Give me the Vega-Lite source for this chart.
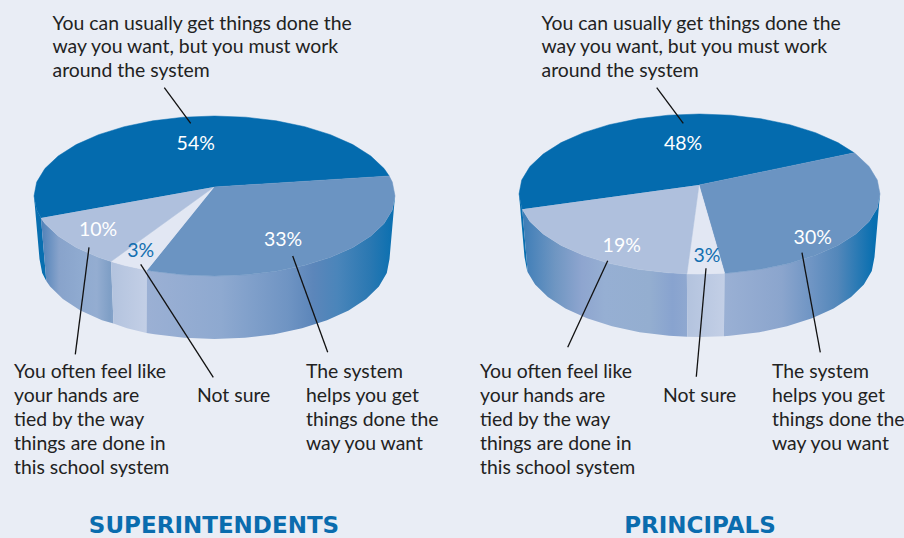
{"$schema":"https://vega.github.io/schema/vega-lite/v6.json","width":904,"height":538,"autosize":{"type":"fit","contains":"padding"},"padding":0,"background":"#e9edf5","config":{"view":{"stroke":null}},
"datasets":{
"tops":[
{"panel":"SUPERINTENDENTS","answer":"work around","ord":0,"x":214,"y":187},{"panel":"SUPERINTENDENTS","answer":"work around","ord":1,"x":41,"y":218},{"panel":"SUPERINTENDENTS","answer":"work around","ord":2,"x":36.7,"y":209.9},{"panel":"SUPERINTENDENTS","answer":"work around","ord":3,"x":34,"y":196},{"panel":"SUPERINTENDENTS","answer":"work around","ord":4,"x":36.7,"y":182.1},{"panel":"SUPERINTENDENTS","answer":"work around","ord":5,"x":44.9,"y":168.6},{"panel":"SUPERINTENDENTS","answer":"work around","ord":6,"x":58.2,"y":156},{"panel":"SUPERINTENDENTS","answer":"work around","ord":7,"x":76.2,"y":144.6},{"panel":"SUPERINTENDENTS","answer":"work around","ord":8,"x":98.5,"y":134.7},{"panel":"SUPERINTENDENTS","answer":"work around","ord":9,"x":124.2,"y":126.7},{"panel":"SUPERINTENDENTS","answer":"work around","ord":10,"x":152.8,"y":120.8},{"panel":"SUPERINTENDENTS","answer":"work around","ord":11,"x":183.2,"y":117.2},{"panel":"SUPERINTENDENTS","answer":"work around","ord":12,"x":214.5,"y":116},{"panel":"SUPERINTENDENTS","answer":"work around","ord":13,"x":245.8,"y":117.2},{"panel":"SUPERINTENDENTS","answer":"work around","ord":14,"x":276.2,"y":120.8},{"panel":"SUPERINTENDENTS","answer":"work around","ord":15,"x":304.8,"y":126.7},{"panel":"SUPERINTENDENTS","answer":"work around","ord":16,"x":330.5,"y":134.7},{"panel":"SUPERINTENDENTS","answer":"work around","ord":17,"x":352.8,"y":144.6},{"panel":"SUPERINTENDENTS","answer":"work around","ord":18,"x":370.8,"y":156},{"panel":"SUPERINTENDENTS","answer":"work around","ord":19,"x":384.1,"y":168.6},{"panel":"SUPERINTENDENTS","answer":"work around","ord":20,"x":389.2,"y":176},
{"panel":"SUPERINTENDENTS","answer":"helps","ord":0,"x":214,"y":187},{"panel":"SUPERINTENDENTS","answer":"helps","ord":1,"x":389.2,"y":176},{"panel":"SUPERINTENDENTS","answer":"helps","ord":2,"x":392.3,"y":182.1},{"panel":"SUPERINTENDENTS","answer":"helps","ord":3,"x":395,"y":196},{"panel":"SUPERINTENDENTS","answer":"helps","ord":4,"x":392.3,"y":209.9},{"panel":"SUPERINTENDENTS","answer":"helps","ord":5,"x":384.1,"y":223.4},{"panel":"SUPERINTENDENTS","answer":"helps","ord":6,"x":370.8,"y":236},{"panel":"SUPERINTENDENTS","answer":"helps","ord":7,"x":352.8,"y":247.4},{"panel":"SUPERINTENDENTS","answer":"helps","ord":8,"x":330.5,"y":257.3},{"panel":"SUPERINTENDENTS","answer":"helps","ord":9,"x":304.8,"y":265.3},{"panel":"SUPERINTENDENTS","answer":"helps","ord":10,"x":276.2,"y":271.2},{"panel":"SUPERINTENDENTS","answer":"helps","ord":11,"x":245.8,"y":274.8},{"panel":"SUPERINTENDENTS","answer":"helps","ord":12,"x":214.5,"y":276},{"panel":"SUPERINTENDENTS","answer":"helps","ord":13,"x":183.2,"y":274.8},{"panel":"SUPERINTENDENTS","answer":"helps","ord":14,"x":152.8,"y":271.2},{"panel":"SUPERINTENDENTS","answer":"helps","ord":15,"x":146.9,"y":270.2},
{"panel":"SUPERINTENDENTS","answer":"not sure","ord":0,"x":214,"y":187},{"panel":"SUPERINTENDENTS","answer":"not sure","ord":1,"x":146.9,"y":270.2},{"panel":"SUPERINTENDENTS","answer":"not sure","ord":2,"x":124.2,"y":265.3},{"panel":"SUPERINTENDENTS","answer":"not sure","ord":3,"x":111,"y":261.5},
{"panel":"SUPERINTENDENTS","answer":"hands tied","ord":0,"x":214,"y":187},{"panel":"SUPERINTENDENTS","answer":"hands tied","ord":1,"x":111,"y":261.5},{"panel":"SUPERINTENDENTS","answer":"hands tied","ord":2,"x":98.5,"y":257.3},{"panel":"SUPERINTENDENTS","answer":"hands tied","ord":3,"x":76.2,"y":247.4},{"panel":"SUPERINTENDENTS","answer":"hands tied","ord":4,"x":58.2,"y":236},{"panel":"SUPERINTENDENTS","answer":"hands tied","ord":5,"x":44.9,"y":223.4},{"panel":"SUPERINTENDENTS","answer":"hands tied","ord":6,"x":41,"y":218},
{"panel":"PRINCIPALS","answer":"work around","ord":0,"x":699,"y":185},{"panel":"PRINCIPALS","answer":"work around","ord":1,"x":522.3,"y":209.3},{"panel":"PRINCIPALS","answer":"work around","ord":2,"x":521.7,"y":207.9},{"panel":"PRINCIPALS","answer":"work around","ord":3,"x":519,"y":194},{"panel":"PRINCIPALS","answer":"work around","ord":4,"x":521.7,"y":180.1},{"panel":"PRINCIPALS","answer":"work around","ord":5,"x":529.9,"y":166.6},{"panel":"PRINCIPALS","answer":"work around","ord":6,"x":543.2,"y":154},{"panel":"PRINCIPALS","answer":"work around","ord":7,"x":561.2,"y":142.6},{"panel":"PRINCIPALS","answer":"work around","ord":8,"x":583.5,"y":132.7},{"panel":"PRINCIPALS","answer":"work around","ord":9,"x":609.2,"y":124.7},{"panel":"PRINCIPALS","answer":"work around","ord":10,"x":637.8,"y":118.8},{"panel":"PRINCIPALS","answer":"work around","ord":11,"x":668.2,"y":115.2},{"panel":"PRINCIPALS","answer":"work around","ord":12,"x":699.5,"y":114},{"panel":"PRINCIPALS","answer":"work around","ord":13,"x":730.8,"y":115.2},{"panel":"PRINCIPALS","answer":"work around","ord":14,"x":761.2,"y":118.8},{"panel":"PRINCIPALS","answer":"work around","ord":15,"x":789.8,"y":124.7},{"panel":"PRINCIPALS","answer":"work around","ord":16,"x":815.5,"y":132.7},{"panel":"PRINCIPALS","answer":"work around","ord":17,"x":837.8,"y":142.6},{"panel":"PRINCIPALS","answer":"work around","ord":18,"x":854.2,"y":152.8},
{"panel":"PRINCIPALS","answer":"helps","ord":0,"x":699,"y":185},{"panel":"PRINCIPALS","answer":"helps","ord":1,"x":854.2,"y":152.8},{"panel":"PRINCIPALS","answer":"helps","ord":2,"x":855.8,"y":154},{"panel":"PRINCIPALS","answer":"helps","ord":3,"x":869.1,"y":166.6},{"panel":"PRINCIPALS","answer":"helps","ord":4,"x":877.3,"y":180.1},{"panel":"PRINCIPALS","answer":"helps","ord":5,"x":880,"y":194},{"panel":"PRINCIPALS","answer":"helps","ord":6,"x":877.3,"y":207.9},{"panel":"PRINCIPALS","answer":"helps","ord":7,"x":869.1,"y":221.4},{"panel":"PRINCIPALS","answer":"helps","ord":8,"x":855.8,"y":234},{"panel":"PRINCIPALS","answer":"helps","ord":9,"x":837.8,"y":245.4},{"panel":"PRINCIPALS","answer":"helps","ord":10,"x":815.5,"y":255.3},{"panel":"PRINCIPALS","answer":"helps","ord":11,"x":789.8,"y":263.3},{"panel":"PRINCIPALS","answer":"helps","ord":12,"x":761.2,"y":269.2},{"panel":"PRINCIPALS","answer":"helps","ord":13,"x":730.8,"y":272.8},{"panel":"PRINCIPALS","answer":"helps","ord":14,"x":724.6,"y":273.2},
{"panel":"PRINCIPALS","answer":"not sure","ord":0,"x":699,"y":185},{"panel":"PRINCIPALS","answer":"not sure","ord":1,"x":724.6,"y":273.2},{"panel":"PRINCIPALS","answer":"not sure","ord":2,"x":699.5,"y":274},{"panel":"PRINCIPALS","answer":"not sure","ord":3,"x":686.9,"y":273.8},
{"panel":"PRINCIPALS","answer":"hands tied","ord":0,"x":699,"y":185},{"panel":"PRINCIPALS","answer":"hands tied","ord":1,"x":686.9,"y":273.8},{"panel":"PRINCIPALS","answer":"hands tied","ord":2,"x":668.2,"y":272.8},{"panel":"PRINCIPALS","answer":"hands tied","ord":3,"x":637.8,"y":269.2},{"panel":"PRINCIPALS","answer":"hands tied","ord":4,"x":609.2,"y":263.3},{"panel":"PRINCIPALS","answer":"hands tied","ord":5,"x":583.5,"y":255.3},{"panel":"PRINCIPALS","answer":"hands tied","ord":6,"x":561.2,"y":245.4},{"panel":"PRINCIPALS","answer":"hands tied","ord":7,"x":543.2,"y":234},{"panel":"PRINCIPALS","answer":"hands tied","ord":8,"x":529.9,"y":221.4},{"panel":"PRINCIPALS","answer":"hands tied","ord":9,"x":522.3,"y":209.3}
],
"walls":[
{"id":"S helps","ord":0,"x":395,"y":196},{"id":"S helps","ord":1,"x":392.3,"y":209.9},{"id":"S helps","ord":2,"x":384.1,"y":223.4},{"id":"S helps","ord":3,"x":370.8,"y":236},{"id":"S helps","ord":4,"x":352.8,"y":247.4},{"id":"S helps","ord":5,"x":330.5,"y":257.3},{"id":"S helps","ord":6,"x":304.8,"y":265.3},{"id":"S helps","ord":7,"x":276.2,"y":271.2},{"id":"S helps","ord":8,"x":245.8,"y":274.8},{"id":"S helps","ord":9,"x":214.5,"y":276},{"id":"S helps","ord":10,"x":183.2,"y":274.8},{"id":"S helps","ord":11,"x":152.8,"y":271.2},{"id":"S helps","ord":12,"x":146.9,"y":270.2},{"id":"S helps","ord":13,"x":146.5,"y":333},{"id":"S helps","ord":14,"x":154.6,"y":334.2},{"id":"S helps","ord":15,"x":184.1,"y":337.8},{"id":"S helps","ord":16,"x":214.5,"y":339},{"id":"S helps","ord":17,"x":244.9,"y":337.8},{"id":"S helps","ord":18,"x":274.4,"y":334.2},{"id":"S helps","ord":19,"x":302,"y":328.3},{"id":"S helps","ord":20,"x":327,"y":320.3},{"id":"S helps","ord":21,"x":348.6,"y":310.4},{"id":"S helps","ord":22,"x":366.1,"y":299},{"id":"S helps","ord":23,"x":378.9,"y":286.4},{"id":"S helps","ord":24,"x":386.8,"y":272.9},{"id":"S helps","ord":25,"x":389.5,"y":259},
{"id":"S not sure","ord":0,"x":146.9,"y":270.2},{"id":"S not sure","ord":1,"x":124.2,"y":265.3},{"id":"S not sure","ord":2,"x":111,"y":261.5},{"id":"S not sure","ord":3,"x":113.5,"y":323.5},{"id":"S not sure","ord":4,"x":127,"y":328.3},{"id":"S not sure","ord":5,"x":146.5,"y":333},
{"id":"S hands","ord":0,"x":111,"y":261.5},{"id":"S hands","ord":1,"x":98.5,"y":257.3},{"id":"S hands","ord":2,"x":76.2,"y":247.4},{"id":"S hands","ord":3,"x":58.2,"y":236},{"id":"S hands","ord":4,"x":44.9,"y":223.4},{"id":"S hands","ord":5,"x":41,"y":218},{"id":"S hands","ord":6,"x":46.3,"y":281},{"id":"S hands","ord":7,"x":50.1,"y":286.4},{"id":"S hands","ord":8,"x":62.9,"y":299},{"id":"S hands","ord":9,"x":80.4,"y":310.4},{"id":"S hands","ord":10,"x":102,"y":320.3},{"id":"S hands","ord":11,"x":113.5,"y":323.5},
{"id":"S work","ord":0,"x":41,"y":218},{"id":"S work","ord":1,"x":36.7,"y":209.9},{"id":"S work","ord":2,"x":34,"y":196},{"id":"S work","ord":3,"x":39.5,"y":259},{"id":"S work","ord":4,"x":42.2,"y":272.9},{"id":"S work","ord":5,"x":46.3,"y":281},
{"id":"P helps","ord":0,"x":880,"y":194},{"id":"P helps","ord":1,"x":877.3,"y":207.9},{"id":"P helps","ord":2,"x":869.1,"y":221.4},{"id":"P helps","ord":3,"x":855.8,"y":234},{"id":"P helps","ord":4,"x":837.8,"y":245.4},{"id":"P helps","ord":5,"x":815.5,"y":255.3},{"id":"P helps","ord":6,"x":789.8,"y":263.3},{"id":"P helps","ord":7,"x":761.2,"y":269.2},{"id":"P helps","ord":8,"x":730.8,"y":272.8},{"id":"P helps","ord":9,"x":724.6,"y":273.2},{"id":"P helps","ord":10,"x":723.9,"y":336.2},{"id":"P helps","ord":11,"x":729.9,"y":335.8},{"id":"P helps","ord":12,"x":759.4,"y":332.2},{"id":"P helps","ord":13,"x":787,"y":326.3},{"id":"P helps","ord":14,"x":812,"y":318.3},{"id":"P helps","ord":15,"x":833.6,"y":308.4},{"id":"P helps","ord":16,"x":851.1,"y":297},{"id":"P helps","ord":17,"x":863.9,"y":284.4},{"id":"P helps","ord":18,"x":871.8,"y":270.9},{"id":"P helps","ord":19,"x":874.5,"y":257},
{"id":"P not sure","ord":0,"x":724.6,"y":273.2},{"id":"P not sure","ord":1,"x":699.5,"y":274},{"id":"P not sure","ord":2,"x":686.9,"y":273.8},{"id":"P not sure","ord":3,"x":687.3,"y":336.8},{"id":"P not sure","ord":4,"x":699.5,"y":337},{"id":"P not sure","ord":5,"x":723.9,"y":336.2},
{"id":"P hands","ord":0,"x":686.9,"y":273.8},{"id":"P hands","ord":1,"x":668.2,"y":272.8},{"id":"P hands","ord":2,"x":637.8,"y":269.2},{"id":"P hands","ord":3,"x":609.2,"y":263.3},{"id":"P hands","ord":4,"x":583.5,"y":255.3},{"id":"P hands","ord":5,"x":561.2,"y":245.4},{"id":"P hands","ord":6,"x":543.2,"y":234},{"id":"P hands","ord":7,"x":529.9,"y":221.4},{"id":"P hands","ord":8,"x":522.3,"y":209.3},{"id":"P hands","ord":9,"x":527.7,"y":272.3},{"id":"P hands","ord":10,"x":535.1,"y":284.4},{"id":"P hands","ord":11,"x":547.9,"y":297},{"id":"P hands","ord":12,"x":565.4,"y":308.4},{"id":"P hands","ord":13,"x":587,"y":318.3},{"id":"P hands","ord":14,"x":612,"y":326.3},{"id":"P hands","ord":15,"x":639.6,"y":332.2},{"id":"P hands","ord":16,"x":669.1,"y":335.8},{"id":"P hands","ord":17,"x":687.3,"y":336.8},
{"id":"P work","ord":0,"x":522.3,"y":209.3},{"id":"P work","ord":1,"x":521.7,"y":207.9},{"id":"P work","ord":2,"x":519,"y":194},{"id":"P work","ord":3,"x":524.5,"y":257},{"id":"P work","ord":4,"x":527.2,"y":270.9},{"id":"P work","ord":5,"x":527.7,"y":272.3}
],
"leaders":[
{"x":164.3,"y":87.7,"x2":190.7,"y2":123.3},{"x":89,"y":247.3,"x2":75.3,"y2":354.3},{"x":140.7,"y":264.3,"x2":213.3,"y2":377.3},{"x":292.7,"y":256,"x2":327.7,"y2":352.3},
{"x":656.7,"y":87.7,"x2":683.3,"y2":123.3},{"x":607.7,"y":260.7,"x2":567.7,"y2":347.3},{"x":706,"y":268.3,"x2":696.3,"y2":376.7},{"x":802,"y":252.7,"x2":820.3,"y2":352.3}
],
"captions":[
{"t":"You can usually get things done the","x":52.5,"y":29.5},{"t":"way you want, but you must work","x":52.5,"y":53},{"t":"around the system","x":52.5,"y":77},
{"t":"You often feel like","x":14,"y":377.5},{"t":"your hands are","x":14,"y":401.5},{"t":"tied by the way","x":14,"y":425.5},{"t":"things are done in","x":14,"y":450},{"t":"this school system","x":14,"y":474},
{"t":"Not sure","x":197,"y":401.5},
{"t":"The system","x":306,"y":377.5},{"t":"helps you get","x":306,"y":401.5},{"t":"things done the","x":306,"y":425.5},{"t":"way you want","x":306,"y":450},
{"t":"You can usually get things done the","x":541.5,"y":29.5},{"t":"way you want, but you must work","x":541.5,"y":53},{"t":"around the system","x":541.5,"y":77},
{"t":"You often feel like","x":480,"y":377.5},{"t":"your hands are","x":480,"y":401.5},{"t":"tied by the way","x":480,"y":425.5},{"t":"things are done in","x":480,"y":450},{"t":"this school system","x":480,"y":474},
{"t":"Not sure","x":663,"y":401.5},
{"t":"The system","x":772,"y":377.5},{"t":"helps you get","x":772,"y":401.5},{"t":"things done the","x":772,"y":425.5},{"t":"way you want","x":772,"y":450}
],
"shares":[
{"answer":"work around","share":"54%","x":195.7,"y":150},{"answer":"helps","share":"33%","x":283,"y":246},{"answer":"hands tied","share":"10%","x":98,"y":235.7},{"answer":"not sure","share":"3%","x":140.7,"y":257},
{"answer":"work around","share":"48%","x":683,"y":150},{"answer":"helps","share":"30%","x":812.7,"y":244},{"answer":"hands tied","share":"19%","x":621.7,"y":252},{"answer":"not sure","share":"3%","x":707,"y":262}
],
"titles":[{"t":"SUPERINTENDENTS","x":214,"y":532.5},{"t":"PRINCIPALS","x":700,"y":532.5}]
},
"encoding":{
"x":{"field":"x","type":"quantitative","axis":null,"scale":{"domain":[0,904],"range":[0,904],"nice":false,"zero":false}},
"y":{"field":"y","type":"quantitative","axis":null,"scale":{"domain":[538,0],"range":[538,0],"nice":false,"zero":false}}
},
"layer":[
{"data":{"name":"walls"},"transform":[{"filter":"datum.id==='S work'"}],"mark":{"type":"line","fill":"#086fb0","strokeWidth":0},"encoding":{"order":{"field":"ord"}}},
{"data":{"name":"walls"},"transform":[{"filter":"datum.id==='S hands'"}],"mark":{"type":"line","strokeWidth":0,"fill":{"gradient":"linear","x1":0,"x2":1,"y1":0,"y2":0,"stops":[{"offset":0,"color":"#4f81b8"},{"offset":0.25,"color":"#88a3cb"},{"offset":0.53,"color":"#8faad0"},{"offset":0.77,"color":"#94add1"},{"offset":0.95,"color":"#7f9fc6"},{"offset":1,"color":"#86a3c9"}]}},"encoding":{"order":{"field":"ord"}}},
{"data":{"name":"walls"},"transform":[{"filter":"datum.id==='S not sure'"}],"mark":{"type":"line","strokeWidth":0,"fill":{"gradient":"linear","x1":0,"x2":1,"y1":0,"y2":0,"stops":[{"offset":0,"color":"#b3c3de"},{"offset":1,"color":"#c3cfe6"}]}},"encoding":{"order":{"field":"ord"}}},
{"data":{"name":"walls"},"transform":[{"filter":"datum.id==='S helps'"}],"mark":{"type":"line","strokeWidth":0,"fill":{"gradient":"linear","x1":0,"x2":1,"y1":0,"y2":0,"stops":[{"offset":0,"color":"#9bb0d4"},{"offset":0.3,"color":"#8ea9d0"},{"offset":0.57,"color":"#6f94c3"},{"offset":0.67,"color":"#5c86ba"},{"offset":0.77,"color":"#4a85ba"},{"offset":0.9,"color":"#2a78b2"},{"offset":1,"color":"#086fb0"}]}},"encoding":{"order":{"field":"ord"}}},
{"data":{"name":"walls"},"transform":[{"filter":"datum.id==='P work'"}],"mark":{"type":"line","fill":"#086fb0","strokeWidth":0},"encoding":{"order":{"field":"ord"}}},
{"data":{"name":"walls"},"transform":[{"filter":"datum.id==='P hands'"}],"mark":{"type":"line","strokeWidth":0,"fill":{"gradient":"linear","x1":0,"x2":1,"y1":0,"y2":0,"stops":[{"offset":0,"color":"#3d7db7"},{"offset":0.2,"color":"#6f96c2"},{"offset":0.36,"color":"#8ea5cf"},{"offset":0.5,"color":"#96afd3"},{"offset":0.77,"color":"#94aed0"},{"offset":0.91,"color":"#88a3cf"},{"offset":1,"color":"#8fa8d0"}]}},"encoding":{"order":{"field":"ord"}}},
{"data":{"name":"walls"},"transform":[{"filter":"datum.id==='P not sure'"}],"mark":{"type":"line","strokeWidth":0,"fill":{"gradient":"linear","x1":0,"x2":1,"y1":0,"y2":0,"stops":[{"offset":0,"color":"#b3c3de"},{"offset":1,"color":"#c3cfe6"}]}},"encoding":{"order":{"field":"ord"}}},
{"data":{"name":"walls"},"transform":[{"filter":"datum.id==='P helps'"}],"mark":{"type":"line","strokeWidth":0,"fill":{"gradient":"linear","x1":0,"x2":1,"y1":0,"y2":0,"stops":[{"offset":0,"color":"#9ab0d4"},{"offset":0.37,"color":"#8ba5cd"},{"offset":0.56,"color":"#6f95c4"},{"offset":0.73,"color":"#5387ba"},{"offset":0.96,"color":"#086fb0"},{"offset":1,"color":"#086fb0"}]}},"encoding":{"order":{"field":"ord"}}},
{"data":{"name":"tops"},"mark":{"type":"line","strokeWidth":0.5},"encoding":{"order":{"field":"ord"},"detail":{"field":"panel"},"fill":{"field":"answer","type":"nominal","legend":null,"scale":{"domain":["work around","helps","not sure","hands tied"],"range":["#046bae","#6b94c2","#e2e7f3","#afc0dd"]}},"stroke":{"field":"answer","type":"nominal","legend":null,"scale":{"domain":["work around","helps","not sure","hands tied"],"range":["#046bae","#6b94c2","#e2e7f3","#afc0dd"]}}}},
{"data":{"name":"leaders"},"mark":{"type":"rule","color":"#111","strokeWidth":1.3},"encoding":{"x2":{"field":"x2"},"y2":{"field":"y2"}}},
{"data":{"name":"captions"},"mark":{"type":"text","align":"left","baseline":"alphabetic","font":"Lato","fontSize":19.4,"color":"#222"},"encoding":{"text":{"field":"t"}}},
{"data":{"name":"shares"},"mark":{"type":"text","align":"center","baseline":"alphabetic","font":"Lato","fontSize":19.5},"encoding":{"text":{"field":"share"},"fill":{"condition":{"test":"datum.answer==='not sure'","value":"#136fb0"},"value":"#ffffff"}}},
{"data":{"name":"titles"},"mark":{"type":"text","align":"center","baseline":"alphabetic","font":"DejaVu Sans","fontSize":23,"fontWeight":"bold","color":"#0a6cae"},"encoding":{"text":{"field":"t"}}}
]}
